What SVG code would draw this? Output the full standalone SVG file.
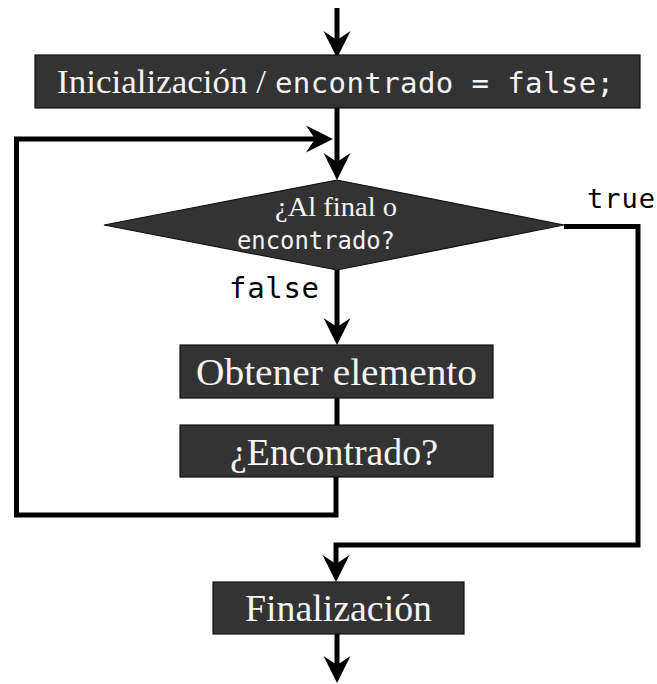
<svg xmlns="http://www.w3.org/2000/svg" width="657" height="684" viewBox="0 0 657 684">
  <style>
    .box { fill: #333333; stroke: #111111; stroke-width: 1.2; }
    .serif { font-family: "Liberation Serif", "DejaVu Serif", serif; fill: #f4f4f4; }
    .mono { font-family: "DejaVu Sans Mono", "Liberation Mono", monospace; fill: #f4f4f4; }
    .lbl { font-family: "DejaVu Sans Mono", "Liberation Mono", monospace; fill: #000000; }
    .conn { fill: none; stroke: #000000; stroke-width: 5; stroke-linejoin: miter; stroke-linecap: butt; }
  </style>
  <defs>
    <marker id="arrow" markerUnits="userSpaceOnUse" viewBox="0 -14 28 28" refX="17" refY="0" markerWidth="28" markerHeight="28" orient="auto">
      <path d="M0,-13.5 L27,0 L0,13.5 L9,0 Z" fill="#000000"/>
    </marker>
  </defs>
  <rect width="657" height="684" fill="#ffffff"/>

  <g id="connectors">
    <path class="conn" d="M337,8 V48" marker-end="url(#arrow)"/>
    <path class="conn" d="M337,108 V170" marker-end="url(#arrow)"/>
    <path class="conn" d="M336,477 V515 H16.5 V139 H323" marker-end="url(#arrow)"/>
    <path class="conn" d="M337,270 V335" marker-end="url(#arrow)"/>
    <path class="conn" d="M337,398 V425"/>
    <path class="conn" d="M564,226.5 H638 V545 H336 V572" marker-end="url(#arrow)"/>
    <path class="conn" d="M337,634 V673" marker-end="url(#arrow)"/>
  </g>

  <g id="init">
    <rect class="box" x="35" y="55" width="605" height="53"/>
    <text class="serif" x="57" y="93" font-size="34" textLength="209" lengthAdjust="spacingAndGlyphs">Inicialización /</text>
    <text class="mono" x="275" y="93" font-size="29" textLength="339">encontrado = false;</text>
  </g>

  <g id="decision">
    <polygon class="box" points="104,225 337,180 564,225 337,270"/>
    <text class="serif" x="275" y="216" font-size="27" textLength="122" lengthAdjust="spacingAndGlyphs">¿Al final o</text>
    <text class="mono" x="237" y="249" font-size="25" textLength="158" lengthAdjust="spacingAndGlyphs">encontrado?</text>
  </g>

  <g id="label-true">
    <text class="lbl" x="587" y="208" font-size="27" textLength="68">true</text>
  </g>
  <g id="label-false">
    <text class="lbl" x="229" y="298" font-size="29" textLength="90">false</text>
  </g>

  <g id="obtener">
    <rect class="box" x="180" y="345" width="313" height="53"/>
    <text class="serif" x="196" y="385" font-size="38" textLength="281" lengthAdjust="spacingAndGlyphs">Obtener elemento</text>
  </g>

  <g id="encontrado">
    <rect class="box" x="180" y="425" width="313" height="52"/>
    <text class="serif" x="230" y="465" font-size="38" textLength="208" lengthAdjust="spacingAndGlyphs">¿Encontrado?</text>
  </g>

  <g id="finalizacion">
    <rect class="box" x="213" y="582" width="251" height="52"/>
    <text class="serif" x="245" y="621" font-size="37" textLength="187" lengthAdjust="spacingAndGlyphs">Finalización</text>
  </g>
</svg>
